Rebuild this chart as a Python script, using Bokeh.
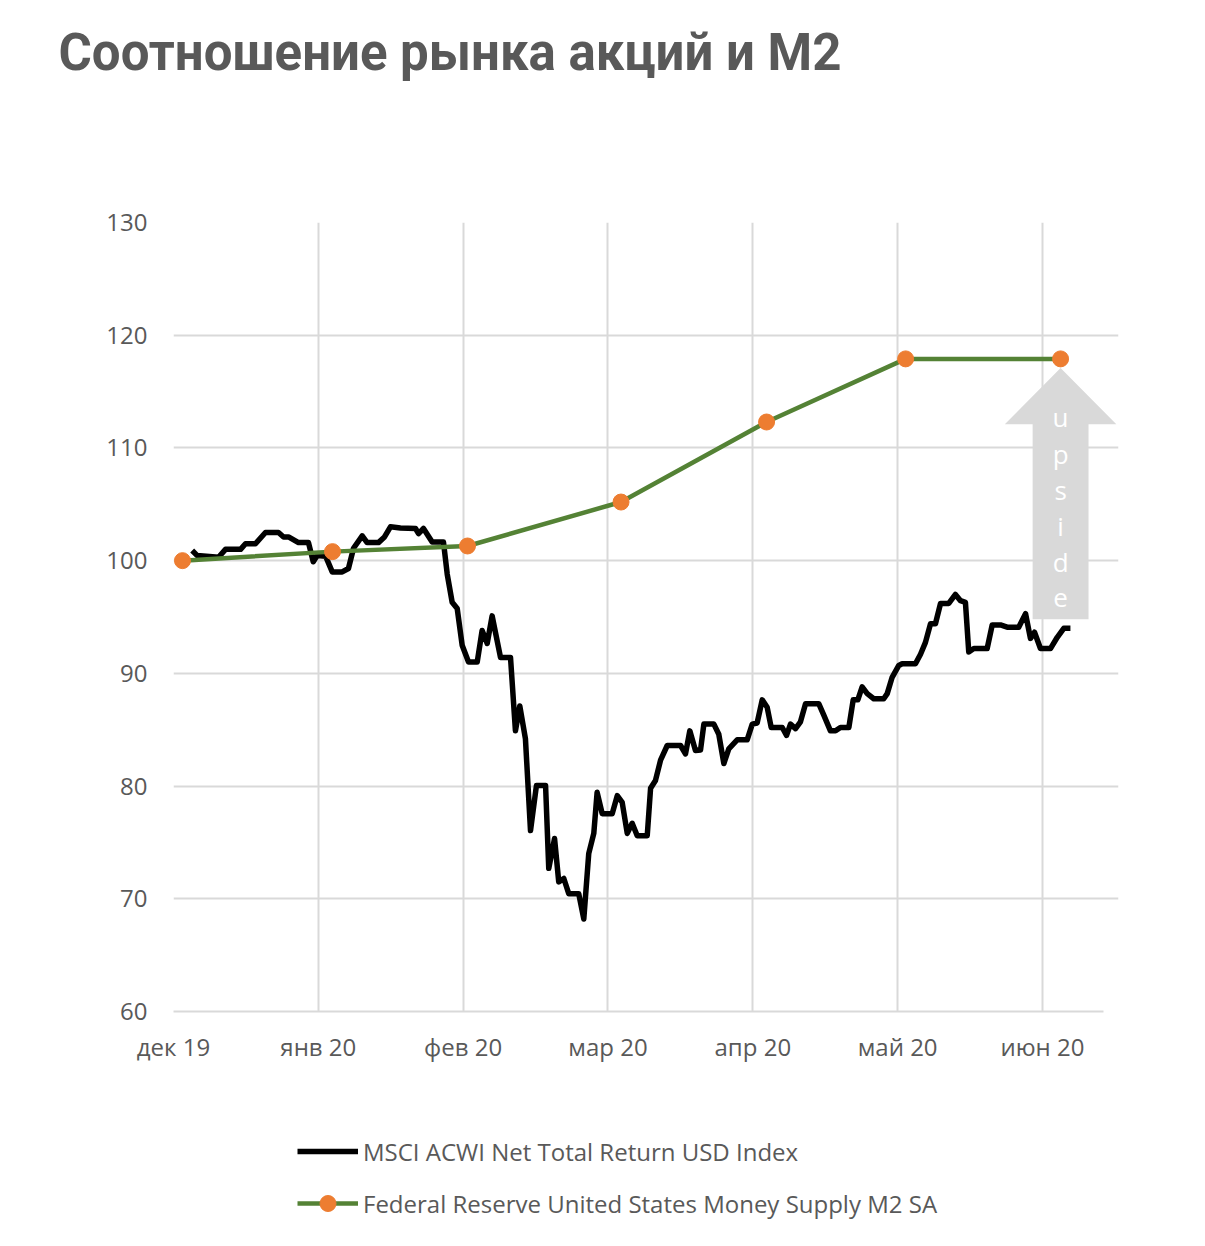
from bokeh.plotting import figure
from bokeh.layouts import column
from bokeh.models import Range1d, FixedTicker, Legend, LegendItem, PolyAnnotation, Label
from bokeh.core.properties import value
from bokeh.embed import file_html
from bokeh.resources import INLINE

# ---- data (x in months since 1 Dec 2019; each month equal width, as in the source) ----
month_labels = ["дек 19", "янв 20", "фев 20", "мар 20", "апр 20", "май 20", "июн 20"]
y_ticks = [60, 70, 80, 90, 100, 110, 120, 130]

msci_x = [0.129, 0.164, 0.311, 0.359, 0.463, 0.497, 0.566, 0.635, 0.725, 0.760, 0.794, 0.863,
          0.932, 0.965, 0.992, 1.050, 1.096, 1.165, 1.208, 1.243, 1.303, 1.337, 1.415, 1.457,
          1.498, 1.567, 1.671, 1.692, 1.726, 1.786, 1.864, 1.890, 1.924, 1.959, 1.993, 2.037,
          2.097, 2.131, 2.166, 2.200, 2.258, 2.327, 2.361, 2.391, 2.430, 2.465, 2.506, 2.569,
          2.591, 2.631, 2.660, 2.695, 2.729, 2.798, 2.833, 2.867, 2.902, 2.925, 2.960, 3.029,
          3.064, 3.098, 3.133, 3.167, 3.202, 3.271, 3.294, 3.328, 3.363, 3.409, 3.501, 3.535,
          3.565, 3.604, 3.639, 3.662, 3.731, 3.765, 3.800, 3.834, 3.892, 3.961, 3.996, 4.030,
          4.065, 4.099, 4.127, 4.203, 4.233, 4.260, 4.295, 4.329, 4.364, 4.456, 4.490, 4.536,
          4.571, 4.605, 4.663, 4.693, 4.725, 4.755, 4.790, 4.835, 4.904, 4.928, 4.962, 5.008,
          5.031, 5.123, 5.158, 5.192, 5.227, 5.261, 5.296, 5.353, 5.399, 5.434, 5.468, 5.491,
          5.526, 5.618, 5.653, 5.710, 5.756, 5.836, 5.883, 5.917, 5.945, 5.986, 6.055, 6.102,
          6.147, 6.193]
msci_y = [100.9, 100.45, 100.3, 101.0, 101.0, 101.5, 101.5, 102.5, 102.5, 102.1, 102.1, 101.6,
          101.6, 99.9, 100.45, 100.4, 99.0, 99.0, 99.3, 101.1, 102.2, 101.6, 101.6, 102.1,
          103.0, 102.9, 102.85, 102.4, 102.85, 101.65, 101.65, 98.8, 96.3, 95.75, 92.5, 91.0,
          91.0, 93.8, 92.65, 95.1, 91.4, 91.4, 84.9, 87.1, 84.2, 76.05, 80.05, 80.05,
          72.7, 75.35, 71.5, 71.8, 70.45, 70.45, 68.2, 74.0, 75.8, 79.45, 77.55, 77.55,
          79.15, 78.55, 75.8, 76.7, 75.6, 75.6, 79.8, 80.5, 82.3, 83.6, 83.6, 82.85,
          84.9, 83.15, 83.2, 85.5, 85.5, 84.6, 82.0, 83.3, 84.1, 84.1, 85.5, 85.6,
          87.65, 87.0, 85.2, 85.2, 84.5, 85.5, 85.1, 85.7, 87.3, 87.3, 86.3, 84.9,
          84.9, 85.2, 85.2, 87.65, 87.65, 88.8, 88.2, 87.75, 87.75, 88.2, 89.65, 90.7,
          90.85, 90.85, 91.7, 92.75, 94.4, 94.4, 96.2, 96.2, 97.0, 96.45, 96.3, 91.9,
          92.2, 92.2, 94.3, 94.3, 94.1, 94.1, 95.3, 93.1, 93.65, 92.2, 92.2, 93.2,
          94.0, 94.0]

m2_x = [0.062, 1.098, 2.030, 3.090, 4.095, 5.055, 6.125]
m2_y = [100.0, 100.8, 101.3, 105.2, 112.3, 117.9, 117.9]

title_text = "Соотношение рынка акций и M2"
msci_label = "MSCI ACWI Net Total Return USD Index"
m2_label = "Federal Reserve United States Money Supply M2 SA"
arrow_letters = ["u", "p", "s", "i", "d", "e"]

GREY_TXT = "#595959"
GRID = "#D9D9D9"
FONT = "Open Sans"
BLACK = "black"
GREEN = "#548235"
ORANGE = "#ED7D31"

PX_PER_MONTH = 144.83
X_END = 930 / PX_PER_MONTH      # end of the drawn chart area (gridlines)
FRAME_W = 945                   # frame a little wider so the arrow head is not clipped
W = 1200


def blank_figure(h):
    f = figure(width=W, height=h, output_backend="svg", toolbar_location=None,
               x_range=Range1d(0, W), y_range=Range1d(0, h), min_border=0,
               x_axis_location=None, y_axis_location=None, frame_align=False)
    f.grid.visible = False
    f.outline_line_color = None
    return f


# ---------- title strip ----------
TH = 110
ft = blank_figure(TH)
ft.add_layout(Label(x=58, y=TH - 52, text=title_text, text_font="Roboto", text_font_size="51px",
                    text_font_style="bold", text_color=GREY_TXT, text_baseline="alphabetic"))

# ---------- main chart ----------
TOP, FH, BOT = 112, 789, 69
p = figure(width=W, height=TOP + FH + BOT, output_backend="svg", toolbar_location=None,
           x_range=Range1d(0, FRAME_W / PX_PER_MONTH), y_range=Range1d(60, 130),
           min_border_left=173, min_border_right=W - 173 - FRAME_W,
           min_border_top=TOP, min_border_bottom=BOT, frame_align=False)
p.outline_line_color = None

p.xaxis.ticker = FixedTicker(ticks=list(range(len(month_labels))))
p.xaxis.major_label_overrides = {i: lab for i, lab in enumerate(month_labels)}
p.yaxis.ticker = FixedTicker(ticks=y_ticks)
for ax in (p.xaxis[0], p.yaxis[0]):
    ax.major_tick_line_color = None
    ax.minor_tick_line_color = None
    ax.major_label_text_font = FONT
    ax.major_label_text_font_size = "24px"
    ax.major_label_text_color = GREY_TXT
p.xaxis.major_label_standoff = 12
p.yaxis.major_label_standoff = 20
p.xaxis.axis_line_color = GRID
p.xaxis.axis_line_width = 2
p.xaxis.bounds = (0, X_END)
p.yaxis.axis_line_color = None

p.xgrid.grid_line_color = GRID
p.xgrid.grid_line_width = 2
p.ygrid.grid_line_color = GRID
p.ygrid.grid_line_width = 2
p.ygrid.bounds = (0, X_END)

# upside arrow (anchored at last M2 point)
ax_c = m2_x[-1]
tip = m2_y[-1] - 0.8
head_base = tip - 5.0
shaft_bot = tip - 22.3
hw, sw = 0.385, 0.193
p.add_layout(PolyAnnotation(
    xs=[ax_c, ax_c + hw, ax_c + sw, ax_c + sw, ax_c - sw, ax_c - sw, ax_c - hw],
    ys=[tip, head_base, head_base, shaft_bot, shaft_bot, head_base, head_base],
    fill_color=GRID, fill_alpha=1.0, line_color=None, level="underlay"))
p.text(x=[ax_c] * len(arrow_letters),
       y=[head_base + 0.6 - 3.2 * i for i in range(len(arrow_letters))],
       text=arrow_letters, text_color="white", text_font=value(FONT),
       text_font_size="26px", text_align="center", text_baseline="alphabetic")

p.line(msci_x, msci_y, line_color=BLACK, line_width=5.5, line_join="round")
p.line(m2_x, m2_y, line_color=GREEN, line_width=4.5)
p.scatter(m2_x, m2_y, size=16, fill_color=ORANGE, line_color=ORANGE)

# ---------- legend strip (proxy renderers kept outside the visible range) ----------
LH = 158
fl = blank_figure(LH)
OFF = [-1000, -999]
l1 = fl.line(x=OFF, y=OFF, line_color=BLACK, line_width=5.5)
l2 = fl.line(x=OFF, y=OFF, line_color=GREEN, line_width=4.5)
l2s = fl.scatter(x=OFF, y=OFF, size=16, fill_color=ORANGE, line_color=ORANGE)
fl.add_layout(Legend(items=[LegendItem(label=msci_label, renderers=[l1], index=0),
                            LegendItem(label=m2_label, renderers=[l2, l2s], index=0)],
                     location=(297, 15), orientation="vertical",
                     glyph_width=61, glyph_height=40, label_height=30, spacing=12,
                     label_standoff=5, padding=0, margin=0,
                     label_text_font=FONT, label_text_font_size="24px",
                     label_text_color=GREY_TXT, background_fill_alpha=0,
                     border_line_color=None))

layout = column(ft, p, fl, spacing=0)
open("out.html", "w").write(file_html(layout, INLINE))
